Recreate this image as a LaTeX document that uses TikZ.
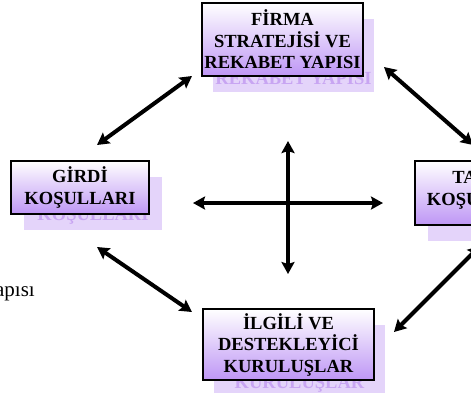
\documentclass[tikz,border=0pt]{standalone}
\usepackage{fontspec}
\setmainfont{Liberation Serif}
\usepackage{tikz}
\usetikzlibrary{
  calc,
  positioning,
  arrows.meta
}
\definecolor{boxlow}{RGB}{190,150,245}
\definecolor{ghostfill}{RGB}{228,212,250}
\definecolor{ghosttext}{RGB}{200,165,242}
\tikzset{>={Stealth[length=12pt,width=13pt,inset=2pt]}}
\newcommand{\boxfont}{\bfseries\fontsize{18.5}{21.5}\selectfont}

\begin{document}
\begin{tikzpicture}[x=1pt, y=-1pt,
		box/.style = {rectangle, draw, line width=1.3pt, align=center, inner sep=0pt, top color=white, bottom color=boxlow, font=\boxfont},
		ghost/.style = {rectangle, align=center, inner sep=0pt, fill=ghostfill, text=ghosttext, font=\boxfont},
		link/.style = {<->, line width=4pt}]
				\useasboundingbox (0,0) rectangle (471,392);
				% shadows
				\node[ghost, minimum width=161pt, minimum height=73pt] (firmaG) at (293.5,55.5) {\phantom{FİRMA}\\\phantom{STRATEJİSİ VE}\\REKABET YAPISI};
				\node[ghost, minimum width=138pt, minimum height=53pt] (girdiG) at (93,203.5) {\phantom{GİRDİ}\\KOŞULLARI};
				\node[ghost, minimum width=135pt, minimum height=64pt] (talepG) at (495.5,209) {\phantom{TALEP}\\KOŞULLARI\\[-12pt]\mbox{}};
				\node[ghost, minimum width=171pt, minimum height=71pt] (ilgiliG) at (299.5,360.5) {\phantom{İLGİLİ VE}\\\phantom{DESTEKLEYİCİ}\\KURULUŞLAR};
				% nodes
				\node[box, minimum width=161pt, minimum height=73pt] (firma) at (282.5,39.5) {FİRMA\\STRATEJİSİ VE\\REKABET YAPISI};
				\node[box, minimum width=138pt, minimum height=53pt] (girdi) at (80,187.5) {GİRDİ\\KOŞULLARI};
				\node[box, minimum width=135pt, minimum height=64pt] (talep) at (482.5,193) {TALEP\\KOŞULLARI\\[-12pt]\mbox{}};
				\node[box, minimum width=171pt, minimum height=71pt] (ilgili) at (288.5,344.5) {İLGİLİ VE\\DESTEKLEYİCİ\\KURULUŞLAR};
				\node[anchor=base east, inner sep=0pt, font=\fontsize{21}{24}\selectfont] (yapisi) at (35,296) {Yapısı};

				% arrow ends
				\coordinate (tl1) at (97,145);  \coordinate (tl2) at (192,76);
				\coordinate (tr1) at (384,67);  \coordinate (tr2) at (473,145);
				\coordinate (bl1) at (97,247);  \coordinate (bl2) at (192,312);
				\coordinate (br1) at (394,332); \coordinate (br2) at (480,246);
				\coordinate (h1) at (193,203);  \coordinate (h2) at (383,203);
				\coordinate (v1) at (288,141);  \coordinate (v2) at (288,274);

				% connections
				\draw[link] (tl1) -- (tl2);
				\draw[link] (tr1) -- (tr2);
				\draw[link] (bl1) -- (bl2);
				\draw[link] (br1) -- (br2);
				\draw[link] (h1) -- (h2);
				\draw[link] (v1) -- (v2);
			\end{tikzpicture}
\end{document}
